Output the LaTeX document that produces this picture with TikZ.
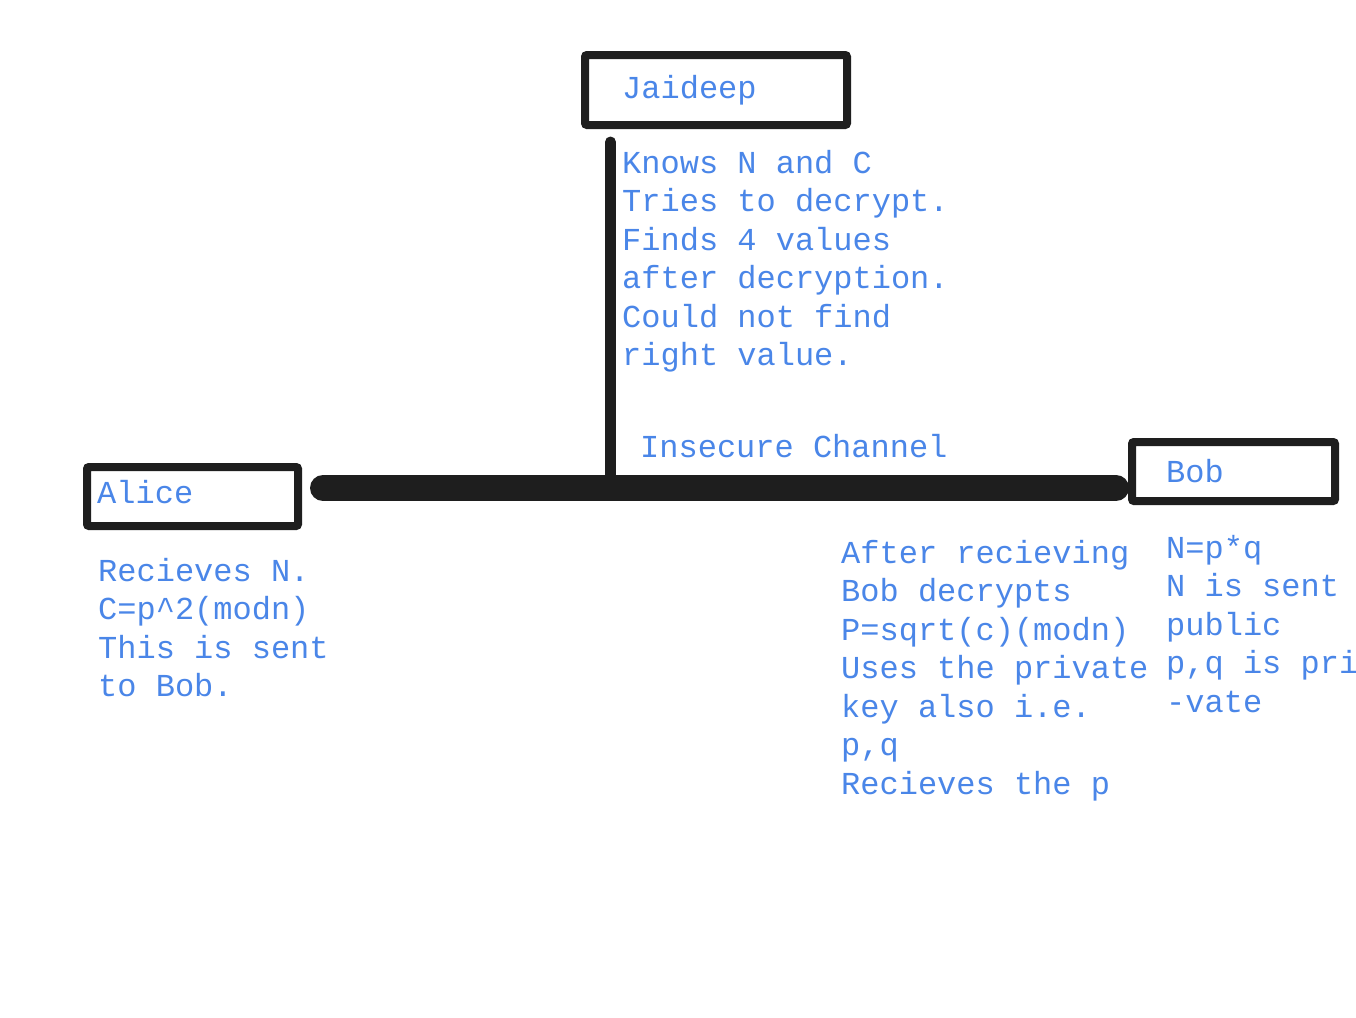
\documentclass[tikz,border=0pt]{standalone}
\usepackage{fontspec}
\setmonofont{Liberation Mono}
\definecolor{inkblue}{HTML}{4A86E8}
\definecolor{inkblack}{HTML}{1E1E1E}
\newcommand\mystrutA{\rule{0pt}{25pt}}
\begin{document}
\begin{tikzpicture}[x=1pt,y=-1pt,
  boxnode/.style={draw=inkblack,line width=8pt,rounded corners=2pt,inner sep=0pt,fill=white},
  txt/.style={font=\fontsize{32}{38.5}\selectfont\ttfamily,text=inkblue,inner sep=0pt,align=left,anchor=north west},
  channel/.style={draw=inkblack,line width=26pt,line cap=round},
  tap/.style={draw=inkblack,line width=11pt,line cap=round}]
\useasboundingbox (0,0) rectangle (1356,1017);
\fill[white] (0,0) rectangle (1356,1017);
% connectors
\coordinate (chL) at (323,488);
\coordinate (chR) at (1116,488);
\coordinate (eveTop) at (610.5,142);
\coordinate (eveFoot) at (610.5,480);
\draw[channel] (chL) -- (chR);
\draw[tap] (eveTop) -- (eveFoot);
% boxes
\node[boxnode,minimum width=262pt,minimum height=70pt] (jaideep) at (716,90) {};
\node[boxnode,minimum width=211pt,minimum height=59pt] (alice) at (192.5,496.5) {};
\node[boxnode,minimum width=203pt,minimum height=59pt] (bob) at (1233.5,471.5) {};
% titles
\node[txt] (jaideepT) at (622,98-25) {\mystrutA Jaideep};
\node[txt] (aliceT) at (97,503-25) {\mystrutA Alice};
\node[txt] (bobT) at (1166,482-25) {\mystrutA Bob};
\node[txt] (chanT) at (640,457-25) {\mystrutA Insecure Channel};
% bodies
\node[txt] (eveBody) at (622,173-25) {\mystrutA Knows N and C\\Tries to decrypt.\\Finds 4 values\\after decryption.\\Could not find\\right value.};
\node[txt] (aliceBody) at (98,581-25) {\mystrutA Recieves N.\\C=p\^{}2(modn)\\This is sent\\to Bob.};
\node[txt] (bobLeft) at (841,563-25) {\mystrutA After recieving\\Bob decrypts\\P=sqrt(c)(modn)\\Uses the private\\key also i.e.\\p,q\\Recieves the p};
\node[txt] (bobRight) at (1166,558-25) {\mystrutA N=p*q\\N is sent\\public\\p,q is pri\\-vate};
\end{tikzpicture}
\end{document}
